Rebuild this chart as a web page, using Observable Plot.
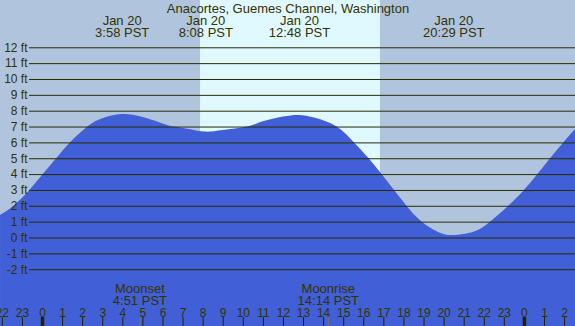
<!DOCTYPE html>
<html>
<head>
<meta charset="utf-8">
<script src="https://cdn.jsdelivr.net/npm/d3@7"></script>
<script src="https://cdn.jsdelivr.net/npm/@observablehq/plot@0.6"></script>
<style>
  html, body { margin: 0; padding: 0; background: #b0c4de; }
  #chart svg { display: block; }
</style>
</head>
<body>
<div id="chart"></div>
<script>
// Tide height (ft) by hour relative to Jan 20 00:00 PST
const tideHours = [-2.09, -1.43, -0.63, 0.035, 0.70, 1.39, 2.26, 3.0, 3.97, 5.0, 6.0, 6.54, 7.3, 8.13, 9.0, 10.2, 11.0, 12.0, 12.8, 13.6, 14.67, 15.54, 16.27, 16.91, 17.53, 18.15, 18.91, 19.82, 20.47, 21.48, 22.31, 23.22, 24.0, 24.67, 25.3, 25.96, 26.55];
const tideFeet  = [1.42, 2.0, 3.0, 4.0, 5.0, 6.0, 7.0, 7.52, 7.79, 7.6, 7.2, 7.0, 6.85, 6.68, 6.78, 7.0, 7.33, 7.63, 7.73, 7.55, 7.0, 6.0, 5.0, 4.0, 3.0, 2.0, 1.0, 0.3, 0.16, 0.37, 1.0, 2.0, 3.0, 4.0, 5.0, 6.0, 6.85];

// Extremes (high / low tide) annotations
const extremeHours = [3.967, 8.133, 12.8, 20.483];
const extremeLabels = ["Jan 20\n3:58 PST", "Jan 20\n8:08 PST", "Jan 20\n12:48 PST", "Jan 20\n20:29 PST"];

// Moon events
const moonHours = [4.85, 14.233];
const moonLabels = ["Moonset\n4:51 PST", "Moonrise\n14:14 PST"];

// Daylight
const sunrise = 7.87;
const sunset = 16.83;

// Axis levels / ticks
const feetLevels = [-2, -1, 0, 1, 2, 3, 4, 5, 6, 7, 8, 9, 10, 11, 12];
const hourTicks = d3.range(-2, 27);
const hourLabels = hourTicks.map(h => String(((h % 24) + 24) % 24));

const title = "Anacortes, Guemes Channel, Washington";

const xDomain = [-2.0916, 26.544];
const yDomain = [-5.584, 14.984];

const tide = tideHours.map((h, i) => ({h, ft: tideFeet[i]}));
const extremes = extremeHours.map((h, i) => ({h, label: extremeLabels[i]}));
const moons = moonHours.map((h, i) => ({h, label: moonLabels[i]}));
const hours = hourTicks.map((h, i) => ({h, label: hourLabels[i]}));

const ink = "#333300";
const font = "Liberation Sans, Arial, sans-serif";

const chart = Plot.plot({
  width: 575,
  height: 326,
  margin: 0,
  x: {domain: xDomain, axis: null},
  y: {domain: yDomain, axis: null},
  style: {background: "#b0c4de", fontFamily: font, overflow: "visible"},
  marks: [
    Plot.rect([{x1: sunrise, x2: sunset}], {x1: "x1", x2: "x2", fill: "#e0f8ff"}),
    Plot.areaY(tide, {x: "h", y1: yDomain[0], y2: "ft", fill: "#415fd6", curve: "natural"}),
    Plot.ruleY(feetLevels, {stroke: "#2b2b00", strokeWidth: 1, insetLeft: 29}),
    Plot.text(feetLevels, {y: d => d, text: d => `${d} ft`, frameAnchor: "left", dx: 27, textAnchor: "end", lineAnchor: "middle", fill: ink, fontSize: 12}),
    Plot.text([title], {text: d => d, frameAnchor: "top", dy: 12, lineAnchor: "bottom", fill: ink, fontSize: 13}),
    Plot.text(extremes, {x: "h", text: "label", frameAnchor: "top", dy: 36, lineAnchor: "bottom", lineHeight: 0.9, fill: ink, fontSize: 13}),
    Plot.text(moons, {x: "h", text: "label", frameAnchor: "bottom", dy: -22, lineAnchor: "bottom", lineHeight: 0.9, fill: ink, fontSize: 13}),
    Plot.text(hours, {x: "h", text: "label", frameAnchor: "bottom", dy: -10, lineAnchor: "bottom", fill: ink, fontSize: 12}),
    Plot.ruleX(moonHours, {stroke: "#77775a", strokeWidth: 1, insetTop: 317}),
    Plot.ruleX(hourTicks, {stroke: "#222200", strokeWidth: d => (((d % 24) + 24) % 24 === 0 ? 3.5 : 1), insetTop: 317})
  ]
});

document.getElementById("chart").appendChild(chart);
</script>
</body>
</html>
